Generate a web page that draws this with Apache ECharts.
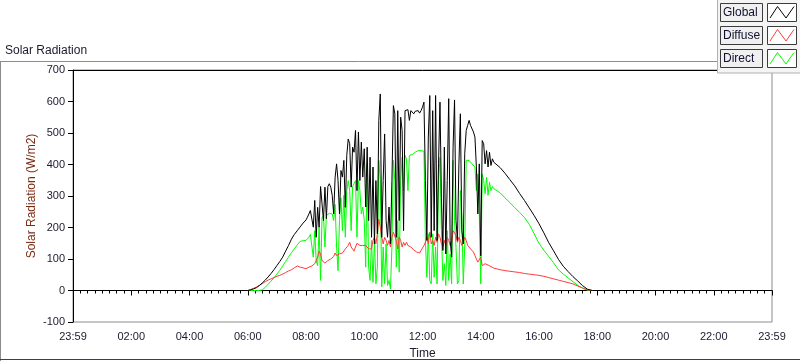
<!DOCTYPE html>
<html>
<head>
<meta charset="utf-8">
<script src="https://cdn.jsdelivr.net/npm/echarts@6/dist/echarts.min.js"></script>
<style>html,body{margin:0;padding:0;background:#fff}#c{width:800px;height:361px}</style>
</head>
<body>
<div id="c"></div>
<script>
// time in minutes since midnight
const times = [0,
360,366,372,378,384,390,396,402,408,414,420,426,432,438,444,450,456,462,468,474,
480,483,486,489,492,495,498,501,504,507,
510,513,516,519,522,525,528,531,534,537,
540,543,546,549,552,555,558,561,564,567,
570,573,576,579,582,585,588,591,594,597,
600,603,606,609,612,615,618,621,624,627,
630,633,636,639,642,645,648,651,654,657,
660,663,666,669,672,675,678,681,684,687,
690,693,696,699,702,705,708,711,714,717,
720,723,726,729,732,735,738,741,744,747,
750,753,756,759,762,765,768,771,774,777,
780,783,786,789,792,795,798,801,804,807,
810,813,816,819,822,825,828,831,834,837,
840,843,846,849,852,855,858,861,864,867,
870,880,890,900,910,920,930,940,950,960,970,980,990,1000,1010,1020,1030,1040,1050,1060,1070,
1440];

const globalVals = [0,
0,2,5,9,16,24,33,43,54,66,79,92,106,125,143,163,178,190,202,214,
224,233,243,254,259,201,286,169,264,201,
330,328,222,328,228,330,339,328,302,243,
360,402,349,243,381,360,413,264,429,481,
466,328,455,439,508,317,503,349,471,360,
450,265,455,222,423,169,392,148,349,180,
540,624,169,349,497,222,169,265,148,349,
587,561,169,571,222,550,508,190,571,566,
574,540,571,577,561,569,566,571,563,571,
582,598,349,159,487,619,169,571,190,619,
159,402,598,296,127,455,116,349,609,159,
106,455,605,222,159,402,561,190,148,434,
508,524,540,524,519,503,487,392,243,402,
110,476,466,402,444,392,439,397,418,407,
410,390,372,352,332,308,286,262,238,212,183,152,126,99,77,60,44,30,15,4,0,
0];

const diffuseVals = [0,
0,3,7,11,16,22,28,33,37,41,45,48,52,57,62,66,72,78,74,72,
69,71,74,76,78,81,85,90,106,125,
116,95,90,87,90,95,97,100,106,108,
119,111,114,116,114,119,125,132,138,143,
153,138,132,125,138,150,148,143,138,143,
148,143,138,132,127,132,159,169,148,180,
227,201,169,148,169,159,143,159,138,169,
185,180,159,132,169,159,138,153,143,153,
143,148,138,132,129,125,122,122,119,127,
132,143,153,169,148,185,148,159,143,169,
153,180,169,148,138,159,143,169,159,143,
153,190,185,175,153,169,159,143,153,169,
159,143,138,132,127,122,111,100,90,87,
106,79,74,85,87,81,79,76,74,71,
70,66,63,61,59,57,54,52,50,48,45,41,37,33,29,25,21,14,8,2,0,
0];

const directVals = [0,
0,0,0,0,0,2,10,20,30,40,52,64,78,92,106,120,132,145,156,158,
159,164,169,178,175,106,190,95,79,201,
32,231,238,138,238,243,245,249,243,222,
273,138,63,222,294,190,302,169,317,349,
317,190,330,339,349,169,349,317,243,265,
222,74,402,74,32,159,26,159,21,74,
413,349,11,138,21,148,16,32,5,138,
413,349,74,222,58,349,423,317,429,418,
317,429,434,432,436,439,442,444,442,444,
447,442,159,42,180,32,21,180,42,138,
21,349,423,190,32,85,16,190,32,116,
21,413,222,138,21,32,317,233,21,138,
413,407,413,407,402,397,392,317,370,243,
21,370,349,307,360,302,344,317,330,323,
320,310,294,279,263,248,232,210,180,150,128,108,88,66,52,40,28,16,7,1,0,
0];

const seriesNames = ['Global', 'Diffuse', 'Direct'];
const seriesColors = ['#000000', '#ff3b3b', '#00ff00'];
const yTicks = { min: -100, max: 700, step: 100 };
const xTicks = { min: 0, max: 1440, step: 120 };

function pairs(vals) { return times.map((t, i) => [t, vals[i]]); }
function fmtTime(v) {
  if (v === 0 || v === 1440) return '23:59';
  const h = Math.floor(v / 60);
  return (h < 10 ? '0' : '') + h + ':00';
}

const FONT = 'Liberation Sans';
const chart = echarts.init(document.getElementById('c'), null, { renderer: 'canvas' });

function legendRow(i, y) {
  return [
    { type: 'rect', shape: { x: 720.5, y: y + 0.5, width: 42, height: 18 },
      style: { fill: '#f0f0f0', stroke: '#3c3c3c', lineWidth: 1 }, z: 10 },
    { type: 'text', style: { x: 723, y: y + 10, text: seriesNames[i], fill: '#101030',
      font: '12px "' + FONT + '"', textVerticalAlign: 'middle', verticalAlign: 'middle' }, z: 11 },
    { type: 'rect', shape: { x: 767.5, y: y + 0.5, width: 29, height: 18 },
      style: { fill: '#ffffff', stroke: '#3c3c3c', lineWidth: 1 }, z: 10 },
    { type: 'polyline', shape: { points: [[770, y + 15], [777.5, y + 3.5], [786, y + 15], [794, y + 3.5]] },
      style: { stroke: seriesColors[i], lineWidth: 1, fill: null }, z: 11 }
  ];
}

const option = {
  animation: false,
  backgroundColor: '#ffffff',
  textStyle: { fontFamily: FONT },
  grid: { left: 73, right: 28, top: 70, bottom: 39, show: true, borderColor: '#8c8c8c', borderWidth: 1,
          containLabel: false, outerBoundsMode: 'none' },
  xAxis: [{
    type: 'value', min: xTicks.min, max: xTicks.max, interval: xTicks.step,
    name: 'Time', nameLocation: 'middle', nameGap: 26, nameMoveOverlap: false,
    nameTextStyle: { color: '#1a1a2e', fontSize: 12, fontFamily: FONT },
    axisLine: { show: true, lineStyle: { color: '#000', width: 1 } },
    axisTick: { show: true, length: 5, lineStyle: { color: '#000' } },
    minorTick: { show: true, splitNumber: 8, length: 3, lineStyle: { color: '#000' } },
    axisLabel: { formatter: fmtTime, fontSize: 11, color: '#1a1a2e', margin: 9, fontFamily: FONT, showMinLabel: true, showMaxLabel: true },
    splitLine: { show: false }
  }, {
    type: 'value', min: xTicks.min, max: xTicks.max, position: 'top',
    axisLine: { show: true, lineStyle: { color: '#000', width: 1 } },
    axisTick: { show: false }, axisLabel: { show: false }, splitLine: { show: false }
  }],
  yAxis: {
    type: 'value', min: yTicks.min, max: yTicks.max, interval: yTicks.step,
    name: 'Solar Radiation (W/m2)', nameLocation: 'middle', nameGap: 35, nameMoveOverlap: false,
    nameTextStyle: { color: '#7a2a12', fontSize: 12, fontFamily: FONT },
    axisLine: { show: true, lineStyle: { color: '#000', width: 1 } },
    axisTick: { show: true, length: 5, lineStyle: { color: '#000' } },
    axisLabel: { fontSize: 11, color: '#1a1a2e', margin: 8, fontFamily: FONT },
    splitLine: { show: false }
  },
  series: [2, 1, 0].map(i => ({
    name: seriesNames[i], type: 'line', showSymbol: false, symbol: 'none',
    data: pairs([globalVals, diffuseVals, directVals][i]),
    lineStyle: { color: seriesColors[i], width: 1 },
    itemStyle: { color: seriesColors[i] },
    sampling: null, z: 2 + (2 - i)
  })),
  graphic: [
    { type: 'text', style: { x: 5, y: 51, text: 'Solar Radiation', fill: '#1a1a2e',
      font: '12px "' + FONT + '"', verticalAlign: 'middle', textVerticalAlign: 'middle' } },
    { type: 'line', shape: { x1: 0, y1: 61.5, x2: 717, y2: 61.5 }, style: { stroke: '#8c8c8c', lineWidth: 1 } },
    { type: 'line', shape: { x1: 0.5, y1: 61, x2: 0.5, y2: 361 }, style: { stroke: '#8c8c8c', lineWidth: 1 } },
    { type: 'line', shape: { x1: 0, y1: 359.5, x2: 800, y2: 359.5 }, style: { stroke: '#404040', lineWidth: 1 } },
    { type: 'rect', shape: { x: 717.5, y: -1, width: 83, height: 74 },
      style: { fill: '#f4f4f4', stroke: '#b0b0b0', lineWidth: 1 }, z: 9 },
    ...legendRow(0, 3),
    ...legendRow(1, 26),
    ...legendRow(2, 49)
  ]
};
chart.setOption(option);
</script>
</body>
</html>
